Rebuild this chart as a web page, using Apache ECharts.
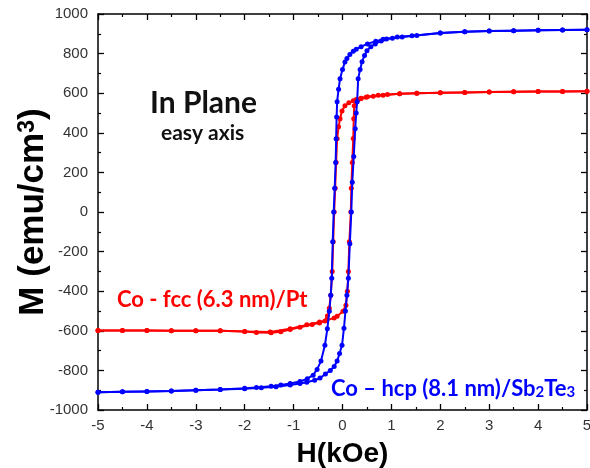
<!DOCTYPE html>
<html>
<head>
<meta charset="utf-8">
<script src="https://cdn.jsdelivr.net/npm/echarts@6/dist/echarts.min.js"></script>
<style>html,body{margin:0;padding:0;background:#fff}#c{width:590px;height:468px}</style>
</head>
<body>
<div id="c"></div>
<script>
// H (kOe) and M (emu/cm^3)
const blueDownH = [5.0,4.5,4.0,3.5,3.0,2.5,2.0,1.52,1.22,1.02,0.83,0.68,0.51,0.38,0.28,0.22,0.15,0.09,0.05,0.0,-0.05,-0.08,-0.11,-0.12,-0.13,-0.14,-0.16,-0.18,-0.2,-0.22,-0.24,-0.27,-0.31,-0.36,-0.44,-0.52,-0.6,-0.72,-0.87,-1.07,-1.26,-1.46,-1.76,-2.0,-2.5,-3.0,-3.5,-4.0,-4.5,-5.0];
const blueDownM = [920,919,918,916,914,910,904,892,884,878,872,862,849,835,822,812,795,775,757,720,673,620,557,480,370,250,120,0,-150,-335,-420,-501,-590,-673,-753,-795,-824,-842,-856,-866,-874,-880,-886,-890,-896,-900,-904,-906,-908,-910];
const blueUpH = [-5.0,-4.5,-4.0,-3.5,-3.0,-2.5,-2.0,-1.66,-1.36,-1.07,-0.87,-0.73,-0.57,-0.46,-0.35,-0.25,-0.17,-0.11,-0.06,-0.01,0.03,0.06,0.09,0.12,0.15,0.18,0.2,0.23,0.26,0.28,0.3,0.32,0.36,0.4,0.45,0.5,0.58,0.67,0.79,0.9,1.12,1.42,2.0,2.5,3.0,3.5,4.0,4.5,5.0];
const blueUpM = [-910,-908,-906,-904,-900,-897,-893,-888,-882,-874,-866,-860,-850,-839,-818,-800,-780,-753,-715,-673,-587,-500,-420,-335,-160,0,150,280,421,500,557,673,720,759,790,814,835,849,864,874,884,890,904,910,914,916,918,919,920];
const redDownH = [5.0,4.5,4.0,3.5,3.0,2.5,2.0,1.52,1.17,0.92,0.73,0.51,0.38,0.28,0.22,0.13,0.05,-0.01,-0.05,-0.08,-0.11,-0.13,-0.15,-0.17,-0.19,-0.21,-0.24,-0.27,-0.31,-0.36,-0.47,-0.62,-0.87,-1.07,-1.26,-1.46,-1.76,-2.0,-2.5,-3.0,-3.5,-4.0,-4.5,-5.0];
const redDownM = [610,609,608,607,606,604,602,600,597,594,590,582,575,568,562,552,537,510,471,430,370,250,120,0,-150,-300,-420,-486,-525,-551,-560,-568,-582,-594,-605,-610,-608,-603,-600,-600,-600,-599,-598,-598];
const redUpH = [-5.0,-4.5,-4.0,-3.5,-3.0,-2.5,-2.0,-1.48,-1.07,-0.73,-0.47,-0.32,-0.17,-0.11,0.01,0.07,0.1,0.12,0.14,0.17,0.18,0.2,0.22,0.23,0.24,0.28,0.32,0.38,0.48,0.63,0.83,1.17,1.52,2.0,2.5,3.0,3.5,4.0,4.5,5.0];
const redUpM = [-598,-598,-599,-600,-600,-600,-603,-606,-590,-570,-556,-546,-535,-526,-501,-471,-400,-300,-150,0,120,250,371,471,537,555,567,573,579,585,590,597,600,602,604,606,607,608,609,610];
const xTicks = [-5,-4,-3,-2,-1,0,1,2,3,4,5];
const yTicks = [-1000,-800,-600,-400,-200,0,200,400,600,800,1000];

const zip = (h, m) => h.map((v, i) => [v, m[i]]);
const redColor = '#ff0000', blueColor = '#0000ff';
const mk = (name, data, color) => ({
  name, type: 'line', data, xAxisIndex: 0, yAxisIndex: 0,
  symbol: 'circle', symbolSize: 5, showSymbol: true,
  lineStyle: { color, width: 2 }, itemStyle: { color },
  animation: false, z: color === blueColor ? 3 : 2
});

const axisCommon = {
  axisLine: { show: true, onZero: false, lineStyle: { color: '#000', width: 1.5 } },
  axisTick: { show: true, inside: true, length: 6, lineStyle: { color: '#000', width: 1.3 } },
  minorTick: { show: true, splitNumber: 2, length: 3, lineStyle: { color: '#000', width: 1.2 } },
  splitLine: { show: false }
};

const chart = echarts.init(document.getElementById('c'), null, { renderer: 'canvas' });
chart.setOption({
  animation: false,
  grid: { left: 98, right: 3, top: 14, bottom: 58, containLabel: false, outerBoundsMode: 'none' },
  xAxis: [
    Object.assign({ type: 'value', min: xTicks[0], max: xTicks[xTicks.length-1], interval: 1, position: 'bottom',
      axisLabel: { color: '#333', fontFamily: 'Liberation Sans', fontSize: 15, margin: 8, formatter: v => String(v) },
      name: 'H(kOe)', nameLocation: 'middle', nameGap: 30,
      nameTextStyle: { color: '#000', fontFamily: 'Liberation Sans', fontWeight: 'bold', fontSize: 28 } }, axisCommon),
    Object.assign({ type: 'value', min: xTicks[0], max: xTicks[xTicks.length-1], interval: 1, position: 'top',
      axisLabel: { show: false } }, axisCommon)
  ],
  yAxis: [
    Object.assign({ type: 'value', min: yTicks[0], max: yTicks[yTicks.length-1], interval: 200, position: 'left',
      axisLabel: { color: '#333', fontFamily: 'Liberation Sans', fontSize: 15, margin: 10, formatter: v => String(v) },
      name: '{m|M (emu/cm}{s|3}{m|)}', nameLocation: 'middle', nameGap: 47, nameRotate: 90, nameMoveOverlap: false,
      nameTextStyle: { color: '#000', rich: {
        m: { fontFamily: 'Liberation Sans', fontWeight: 'bold', fontSize: 35, color: '#000' },
        s: { fontFamily: 'Liberation Sans', fontWeight: 'bold', fontSize: 23, color: '#000', verticalAlign: 'top' }
      } } }, axisCommon),
    Object.assign({ type: 'value', min: yTicks[0], max: yTicks[yTicks.length-1], interval: 200, position: 'right',
      axisLabel: { show: false } }, axisCommon)
  ],
  series: [
    mk('Co-fcc down', zip(redDownH, redDownM), redColor),
    mk('Co-fcc up', zip(redUpH, redUpM), redColor),
    mk('Co-hcp down', zip(blueDownH, blueDownM), blueColor),
    mk('Co-hcp up', zip(blueUpH, blueUpM), blueColor)
  ],
  graphic: [
    { type: 'text', left: 150, top: 88, style: { text: 'In Plane', font: 'bold 30px Lato', fill: '#111' } },
    { type: 'text', left: 161, top: 123, style: { text: 'easy axis', font: 'bold 21px Lato', fill: '#111' } },
    { type: 'text', left: 117, top: 289, style: { text: 'Co - fcc (6.3 nm)/Pt', font: 'bold 22px Lato', fill: redColor } },
    { type: 'text', left: 331, top: 378, style: {
      text: '{n|Co – hcp (8.1 nm)/Sb}{b|2}{n|Te}{b|3}',
      rich: {
        n: { font: 'bold 22px Lato', fill: blueColor, color: blueColor },
        b: { font: 'bold 15px Lato', fill: blueColor, color: blueColor, verticalAlign: 'bottom' }
      } } }
  ]
});
</script>
</body>
</html>
